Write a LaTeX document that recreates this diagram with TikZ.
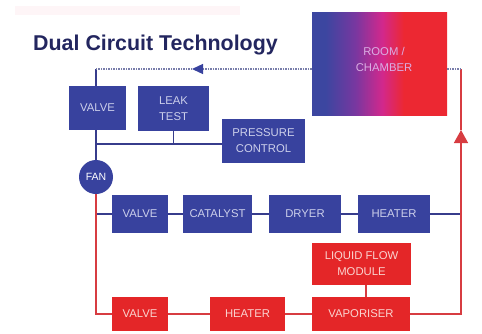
\documentclass[tikz,border=0pt]{standalone}
\usepackage{fontspec}
\setmainfont{Liberation Sans}
\usetikzlibrary{arrows.meta,calc}
\definecolor{bbox}{RGB}{56,66,158}
\definecolor{rbox}{RGB}{228,38,40}
\definecolor{bline}{RGB}{55,60,140}
\definecolor{rline}{RGB}{215,60,65}
\definecolor{btext}{RGB}{205,208,235}
\definecolor{rtext}{RGB}{250,212,208}
\definecolor{ttlc}{RGB}{35,38,95}
\definecolor{dotc}{RGB}{120,125,170}
\definecolor{roomtxt}{RGB}{218,175,228}
\definecolor{pinkband}{RGB}{254,245,247}
\definecolor{rb}{RGB}{60,70,160}
\definecolor{rp}{RGB}{120,55,160}
\definecolor{rm}{RGB}{210,40,140}
\definecolor{rr}{RGB}{236,40,50}
\pgfdeclarehorizontalshading{roomshade}{100bp}{color(0bp)=(rb); color(30bp)=(rb); color(41bp)=(rp); color(51bp)=(rm); color(59bp)=(rr); color(100bp)=(rr)}
\tikzset{
  bx/.style={draw=none, inner sep=0pt, align=center, font=\fontsize{11.3}{16}\selectfont},
  bb/.style={bx, fill=bbox, text=btext},
  rx/.style={bx, fill=rbox, text=rtext},
  bl/.style={draw=bline, line width=1.4pt},
  rl/.style={draw=rline, line width=1.4pt},
  dotline/.style={draw=dotc, line width=1.3pt, dash pattern=on 1.5pt off 1pt},
}
\begin{document}
\begin{tikzpicture}[x=1pt,y=-1pt]
\useasboundingbox (0,0) rectangle (482,333);
\fill[pinkband] (15,6) rectangle (240,15);
% title
\node[anchor=base west, inner sep=0pt, text=ttlc, font=\bfseries\fontsize{21.4}{24}\selectfont] (ttl) at (33,50) {Dual Circuit Technology};
% room
\node[draw=none, shading=roomshade, minimum width=135pt, minimum height=103pt, inner sep=0pt] (room) at (379.5,63.5) {};
\node[bx, text=roomtxt] (roomlbl) at (384,59) {ROOM /\\CHAMBER};
% top blue group
\node[bb, minimum width=57pt, minimum height=44pt] (valveA) at (97.5,108) {VALVE};
\node[bb, minimum width=71pt, minimum height=45pt] (leak) at (173.5,108.5) {LEAK\\TEST};
\node[bb, minimum width=83pt, minimum height=44pt] (press) at (263.5,141) {PRESSURE\\CONTROL};
\node[circle, fill=bbox, text=white, inner sep=0pt, minimum size=34pt, font=\fontsize{10.5}{12}\selectfont] (fan) at (96,177) {FAN};
% blue row
\node[bb, minimum width=56pt, minimum height=38pt] (valveB) at (140,214) {VALVE};
\node[bb, minimum width=69pt, minimum height=38pt] (cat) at (217.5,214) {CATALYST};
\node[bb, minimum width=72pt, minimum height=38pt] (dryer) at (305,214) {DRYER};
\node[bb, minimum width=72pt, minimum height=38pt] (heaterB) at (394,214) {HEATER};
% red row
\node[rx, minimum width=99pt, minimum height=42pt] (lfm) at (361.5,264) {LIQUID FLOW\\MODULE};
\node[rx, minimum width=56pt, minimum height=34pt] (valveR) at (140,314) {VALVE};
\node[rx, minimum width=75pt, minimum height=34pt] (heaterR) at (247.5,314) {HEATER};
\node[rx, minimum width=98pt, minimum height=34pt] (vapor) at (361,314) {VAPORISER};
% coordinates
\coordinate (tl) at (96,69);
\coordinate (ta) at (192,69);
\coordinate (j1) at (96,144);
\coordinate (j2) at (96,214);
\coordinate (bl) at (96,314);
\coordinate (br) at (461,314);
\coordinate (ra) at (461,130);
\coordinate (tr) at (461,69);
% blue connectors
\draw[bl] (tl) -- (tl |- valveA.north);
\draw[bl] (tl |- valveA.south) -- (fan.north);
\draw[bl] (j1) -- (j1 -| press.west);
\draw[bl] (leak.south) -- (leak.south |- j1);
\draw[dotline, -{Triangle[length=11pt,width=10pt,color=bbox]}] (room.west |- tl) -- (ta);
\draw[dotline] (ta) -- (tl);
\draw[bl] (j2) -- (valveB.west);
\draw[bl] (valveB.east) -- (cat.west);
\draw[bl] (cat.east) -- (dryer.west);
\draw[bl] (dryer.east) -- (heaterB.west);
\draw[bl] (heaterB.east) -- (heaterB.east -| br);
% red connectors
\draw[rl] (fan.south) -- (bl) -- (valveR.west);
\draw[rl] (valveR.east) -- (heaterR.west);
\draw[rl] (heaterR.east) -- (vapor.west);
\draw[rl] ($(lfm.south)+(4.5,0)$) -- ($(vapor.north)+(5,0)$);
\draw[rl, -{Triangle[length=13pt,width=14pt]}] (vapor.east) -- (br) -- (ra);
\draw[rl] (ra) -- (tr);
\draw[dotline] (tr) -- (room.east |- tr);
\end{tikzpicture}
\end{document}
